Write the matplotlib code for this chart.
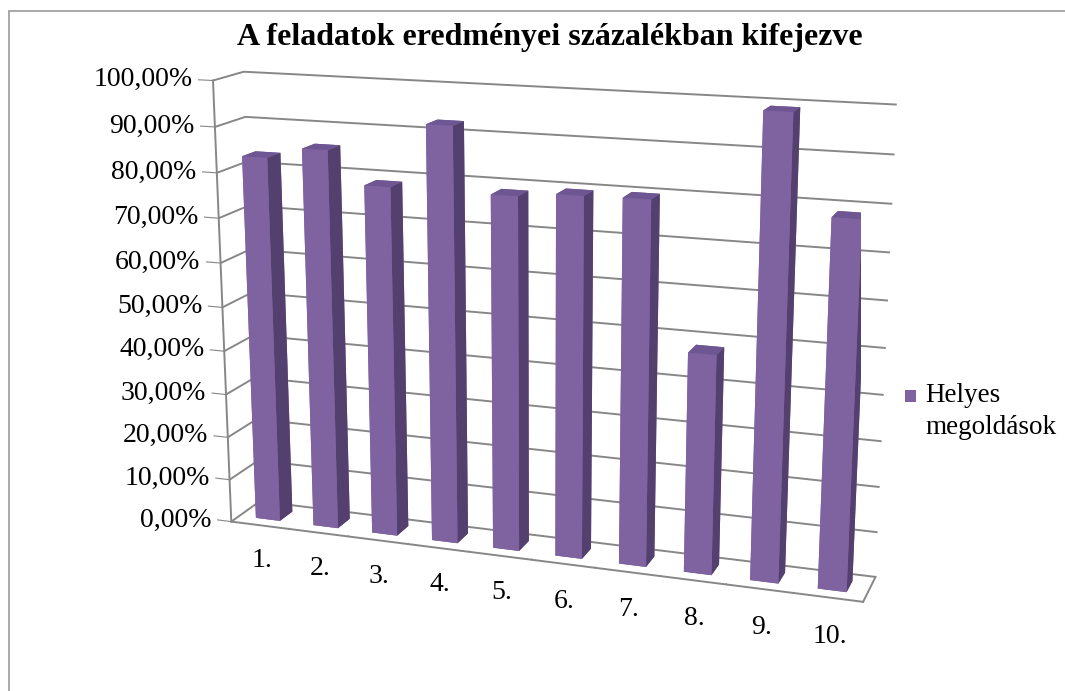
import numpy as np
import matplotlib.pyplot as plt
from matplotlib.patches import Rectangle

tasks = ['1.', '2.', '3.', '4.', '5.', '6.', '7.', '8.', '9.', '10.']
correct_pct = [83.2, 85.7, 78.6, 92.5, 78.5, 79.5, 79.7, 48.2, 99.1, 78.6]
pct_ticks = list(range(0, 101, 10))
pct_labels = ['%d,00%%' % t for t in pct_ticks]

bar_front = '#7F63A1'
bar_top = '#6E5693'
bar_side = '#54406F'
grey = '#878787'

plt.rcParams['font.family'] = ['Liberation Serif', 'DejaVu Serif']

fig = plt.figure(figsize=(10.65, 6.91), dpi=100)
fig.patches.append(Rectangle((9 / 1065, -0.1), 1.2, 1 - 11 / 691 + 0.1,
                             transform=fig.transFigure, fill=False,
                             edgecolor='#9a9a9a', lw=1.2))

ax = fig.add_axes([0.1005, 0.039, 0.80, 0.95], projection='3d',
                  proj_type='persp', focal_length=0.58)
ax.view_init(elev=15, azim=-71)
ax.set_box_aspect((10.05, 1.0, 7.0), zoom=1.225)

# one cuboid per task, faces: bottom, top, front, back, left, right
n = len(correct_pct)
xs = np.arange(n) - 0.21
face_cols = [bar_top, bar_top, bar_front, bar_front, bar_front, bar_side]
ax.bar3d(xs, np.full(n, 0.28), np.zeros(n), 0.42, 0.45, correct_pct,
         color=face_cols * n, shade=False)

ax.set_xlim(-0.5, n - 0.5)
ax.set_ylim(0, 1.0)
ax.set_zlim(0, 100)

for axis in (ax.xaxis, ax.yaxis, ax.zaxis):
    axis.set_pane_color((1, 1, 1, 1))
    axis.pane.set_edgecolor((1, 1, 1, 0))
    axis.line.set_color(grey)
    axis.line.set_linewidth(1.4)
    axis._axinfo['tick']['inward_factor'] = 0.0
    axis._axinfo['tick']['outward_factor'] = 0.3
    axis._axinfo['grid'].update(color=grey, linewidth=1.4)
ax.xaxis._axinfo['grid']['linewidth'] = 0
ax.yaxis._axinfo['grid']['linewidth'] = 0
# value axis on the front-left edge
ax.zaxis._axinfo['juggled'] = (1, 2, 0)

ax.set_xticks(np.arange(n + 1) - 0.5)
ax.set_yticks([])
ax.set_zticks(pct_ticks)
ax.set_zticklabels(pct_labels, fontsize=20)
for lbl in ax.get_zticklabels():
    lbl.set_ha('right')
    lbl.set_va('center')
ax.tick_params(axis='both', colors=grey, width=1.4)
ax.tick_params(axis='x', labelbottom=False)
ax.tick_params(axis='z', labelcolor='black', pad=0)

for i, t in enumerate(tasks):
    ax.text(i + 0.07, -0.12, -7.8, t, fontsize=20, ha='center', va='center')

fig.text(0.516, 0.946, 'A feladatok eredményei százalékban kifejezve',
         fontsize=23, fontweight='bold', ha='center', va='center')

# legend entry
fig.patches.append(Rectangle((905 / 1065, 1 - 402 / 691), 11 / 1065, 12 / 691,
                             transform=fig.transFigure, facecolor=bar_front,
                             edgecolor='none'))
fig.text(925 / 1065, 1 - 395 / 691, 'Helyes', fontsize=19.5, va='center')
fig.text(925 / 1065, 1 - 428 / 691, 'megoldások', fontsize=19.5, va='center')

fig.savefig('out.png', dpi=100)
